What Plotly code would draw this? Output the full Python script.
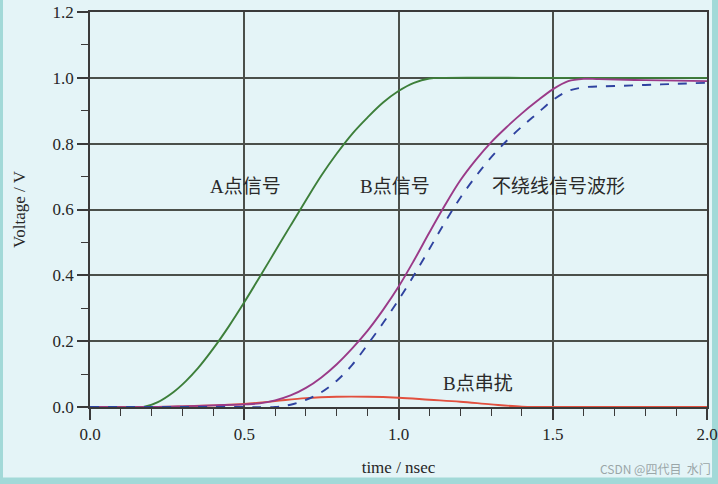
import plotly.graph_objects as go

# Data
a_t = [0.0, 0.10, 0.173, 0.22, 0.27, 0.31, 0.35, 0.40, 0.45, 0.50, 0.55, 0.60, 0.65, 0.70, 0.75,
       0.80, 0.85, 0.90, 0.95, 1.00, 1.05, 1.10, 1.15, 1.4, 1.7, 2.0]
a_v = [0.0, 0.0, 0.0, 0.015, 0.045, 0.078, 0.118, 0.178, 0.245, 0.318, 0.395, 0.473, 0.551, 0.628, 0.703,
       0.77, 0.83, 0.88, 0.925, 0.96, 0.985, 0.998, 1.0, 1.0, 1.0, 1.0]

b_t = [0.0, 0.2, 0.3, 0.4, 0.5, 0.55, 0.60, 0.65, 0.70, 0.75, 0.80, 0.85, 0.90, 0.95, 1.00, 1.05, 1.10,
       1.15, 1.20, 1.25, 1.30, 1.35, 1.40, 1.45, 1.50, 1.55, 1.60, 1.65, 1.8, 2.0]
b_v = [0.0, 0.0, 0.002, 0.005, 0.008, 0.011, 0.02, 0.035, 0.058, 0.09, 0.13, 0.178, 0.232, 0.295, 0.365, 0.445, 0.53,
       0.612, 0.688, 0.75, 0.804, 0.85, 0.892, 0.93, 0.965, 0.99, 0.997, 0.996, 0.993, 0.99]

n_t = [0.0, 0.3, 0.5, 0.60, 0.65, 0.70, 0.75, 0.80, 0.85, 0.90, 0.95, 1.00, 1.05, 1.10, 1.15, 1.20, 1.25,
       1.30, 1.35, 1.40, 1.45, 1.50, 1.55, 1.60, 1.70, 1.85, 2.0]
n_v = [0.0, 0.0, 0.0, 0.0, 0.007, 0.022, 0.045, 0.08, 0.128, 0.19, 0.255, 0.325, 0.40, 0.48, 0.56, 0.635, 0.70,
       0.758, 0.808, 0.852, 0.892, 0.932, 0.96, 0.971, 0.975, 0.98, 0.985]

c_t = [0.0, 0.2, 0.3, 0.4, 0.5, 0.6, 0.7, 0.8, 0.9, 1.0, 1.1, 1.2, 1.3, 1.4, 1.45, 1.6, 1.8, 2.0]
c_v = [0.0, 0.0, 0.002, 0.005, 0.009, 0.018, 0.027, 0.031, 0.031, 0.028, 0.022, 0.016, 0.008, 0.001, 0.0, 0.0, 0.0, 0.0]

labels = ["A点信号", "B点信号", "不绕线信号波形", "B点串扰"]
label_t = [0.504, 0.99, 1.52, 1.257]
label_v = [0.669, 0.669, 0.669, 0.07]

x_ticks = [0.0, 0.5, 1.0, 1.5, 2.0]
y_ticks = [0.0, 0.2, 0.4, 0.6, 0.8, 1.0, 1.2]

W, H = 718, 484
ML, MR, MT, MB = 90, 11, 12, 77
PW, PH = W - ML - MR, H - MT - MB

fig = go.Figure()
sm = 1.0
fig.add_trace(go.Scatter(x=a_t, y=a_v, mode="lines", line=dict(color="#3d7f3a", width=1.9, shape="spline", smoothing=sm)))
fig.add_trace(go.Scatter(x=c_t, y=c_v, mode="lines", line=dict(color="#e2503f", width=1.9, shape="spline", smoothing=sm)))
fig.add_trace(go.Scatter(x=b_t, y=b_v, mode="lines", line=dict(color="#9a3a88", width=1.9, shape="spline", smoothing=sm)))
fig.add_trace(go.Scatter(x=n_t, y=n_v, mode="lines", line=dict(color="#2f43a0", width=1.9, dash="dash", shape="spline", smoothing=sm)))

for txt, tx, ty in zip(labels, label_t, label_v):
    fig.add_annotation(x=tx, y=ty, text=txt, showarrow=False,
                       font=dict(family="Liberation Serif, Noto Sans CJK SC", size=19, color="#2a2a2a"),
                       bgcolor="rgba(0,0,0,0)")

fig.add_annotation(xref="paper", yref="paper", x=1 + (MR - 5) / PW, y=-(468 - MT - PH) / PH,
                   xanchor="right", yanchor="middle", showarrow=False,
                   text="CSDN @四代目  水门",
                   font=dict(family="Noto Sans CJK SC", size=12, color="#9aa6a8"))

# page border (teal frame of the scan)
teal = "#a2d9d8"
x0p, x1p = -ML / PW, 1 + MR / PW
y0p, y1p = -MB / PH, 1 + MT / PH
fig.add_shape(type="line", xref="paper", yref="paper", x0=x0p, x1=x1p, y0=y0p + 3 / PH, y1=y0p + 3 / PH,
              line=dict(color=teal, width=7), layer="below")
fig.add_shape(type="line", xref="paper", yref="paper", x0=x0p + 1 / PW, x1=x0p + 1 / PW, y0=y0p, y1=y1p,
              line=dict(color=teal, width=4), layer="below")
fig.add_shape(type="line", xref="paper", yref="paper", x0=x1p - 3 / PW, x1=x1p - 3 / PW, y0=y0p, y1=y1p,
              line=dict(color=teal, width=6), layer="below")

axis_font = dict(family="Liberation Serif", size=17, color="#262626")
common = dict(showgrid=True, gridcolor="#4a4f4a", gridwidth=1.5,
              showline=True, linecolor="#3a3a3a", linewidth=1.5, mirror=True,
              ticks="outside", ticklen=11, tickwidth=1.5, tickcolor="#3a3a3a",
              tickfont=axis_font, zeroline=False, automargin=False)
fig.update_layout(
    width=W, height=H,
    margin=dict(l=ML, r=MR, t=MT, b=MB),
    paper_bgcolor="#e4f4f7",
    plot_bgcolor="#e4f4f7",
    showlegend=False,
    xaxis=dict(range=[0, 2.0], tickvals=x_ticks, ticktext=[f"{v:.1f}" for v in x_ticks],
               minor=dict(dtick=0.1, ticks="outside", ticklen=7, tickwidth=1.3, tickcolor="#3a3a3a", showgrid=False),
               title=dict(text="time / nsec", font=axis_font, standoff=18), **common),
    yaxis=dict(range=[0, 1.2], tickvals=y_ticks, ticktext=[f"{v:.1f}" for v in y_ticks],
               minor=dict(dtick=0.1, ticks="outside", ticklen=7, tickwidth=1.3, tickcolor="#3a3a3a", showgrid=False),
               title=dict(text="Voltage / V", font=axis_font, standoff=23), **common),
)

fig.write_html("out.html")
